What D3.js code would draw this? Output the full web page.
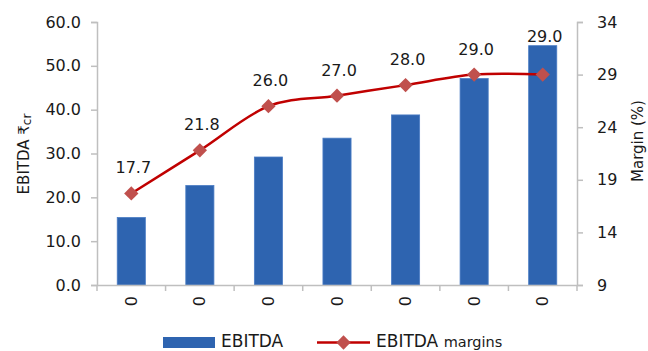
<!DOCTYPE html>
<html>
<head>
<meta charset="utf-8">
<script src="https://cdn.jsdelivr.net/npm/d3@7"></script>
<style>
  html, body { margin: 0; padding: 0; background: #fff; }
  svg { display: block; }
  text { font-family: "DejaVu Sans", sans-serif; fill: #1a1a1a; }
</style>
</head>
<body>
<svg id="chart" width="648" height="351"></svg>
<script>
// Period labels along the x axis
const categories = ["0", "0", "0", "0", "0", "0", "0"];
// EBITDA in ₹ crore (bars, left axis)
const ebitda = [15.4, 22.7, 29.2, 33.5, 38.8, 47.1, 54.6];
// EBITDA margin in % (line, right axis)
const margins = [17.7, 21.8, 26.0, 27.0, 28.0, 29.0, 29.0];
// Axis tick values
const leftTicks = [0, 10, 20, 30, 40, 50, 60];
const rightTicks = [9, 14, 19, 24, 29, 34];

const svg = d3.select("#chart");
const plot = { left: 97, right: 577, top: 22, bottom: 285 };
const axisColor = "#bfbfbf";
const barColor = "#2e64b0";
const lineColor = "#c00000";
const markerColor = "#c0504d";

const x = d3.scaleBand()
  .domain(d3.range(categories.length))
  .range([plot.left, plot.right])
  .padding(0);

const yL = d3.scaleLinear().domain([0, 60]).range([plot.bottom, plot.top]);
const yR = d3.scaleLinear().domain([9, 34]).range([plot.bottom, plot.top]);

const barW = x.bandwidth() * 0.41;
const cx = i => x(i) + x.bandwidth() / 2;

// Bars
svg.append("g").selectAll("rect")
  .data(ebitda)
  .join("rect")
  .attr("x", (d, i) => cx(i) - barW / 2)
  .attr("y", d => yL(d))
  .attr("width", barW)
  .attr("height", d => yL(0) - yL(d))
  .attr("fill", barColor)
  .attr("stroke", "#4a7cc4")
  .attr("stroke-width", 0.8);

// Left axis
const gL = svg.append("g")
  .attr("transform", `translate(${plot.left},0)`)
  .call(d3.axisLeft(yL).tickValues(leftTicks).tickFormat(d3.format(".1f")).tickSize(6).tickPadding(10));

// Right axis
const gR = svg.append("g")
  .attr("transform", `translate(${plot.right},0)`)
  .call(d3.axisRight(yR).tickValues(rightTicks).tickFormat(d3.format("d")).tickSize(6).tickPadding(14));

// Bottom axis: labels at band centres, tick marks at band edges
const gB = svg.append("g")
  .attr("transform", `translate(0,${plot.bottom})`)
  .call(d3.axisBottom(x).tickSize(0).tickFormat(i => categories[i]));
gB.selectAll(".tick text")
  .attr("transform", "rotate(-90)")
  .attr("text-anchor", "end")
  .attr("x", -11)
  .attr("y", 0)
  .attr("dy", "0.35em");
const edges = d3.range(categories.length).map(i => x(i)).concat([plot.right]);
gB.selectAll("line.edge")
  .data(edges)
  .join("line")
  .attr("class", "edge")
  .attr("x1", d => d).attr("x2", d => d)
  .attr("y1", 0).attr("y2", 6);

[gL, gR, gB].forEach(g => {
  g.selectAll("path.domain").attr("stroke", axisColor).attr("stroke-width", 1.5);
  g.selectAll("line").attr("stroke", axisColor).attr("stroke-width", 1.5);
  g.selectAll("text").attr("font-size", 16).attr("fill", "#1a1a1a")
    .style("font-family", "'DejaVu Sans', sans-serif");
});

// Margin line
const line = d3.line()
  .x((d, i) => cx(i))
  .y(d => yR(d))
  .curve(d3.curveCardinal.tension(0));

svg.append("path")
  .datum(margins)
  .attr("d", line)
  .attr("fill", "none")
  .attr("stroke", lineColor)
  .attr("stroke-width", 2.5);

const diamond = d3.symbol().type(d3.symbolDiamond2).size(130);
svg.append("g").selectAll("path")
  .data(margins)
  .join("path")
  .attr("d", diamond)
  .attr("transform", (d, i) => `translate(${cx(i)},${yR(d)})`)
  .attr("fill", markerColor);

// Value labels
svg.append("g").selectAll("text")
  .data(margins)
  .join("text")
  .attr("x", (d, i) => cx(i) + 2)
  .attr("y", (d, i) => yR(d) - (i === margins.length - 1 ? 33 : 20))
  .attr("text-anchor", "middle")
  .attr("font-size", 16)
  .text(d => d3.format(".1f")(d));

// Axis titles
const tL = svg.append("text")
  .attr("transform", `translate(29,154) rotate(-90)`)
  .attr("text-anchor", "middle")
  .attr("font-size", 15);
tL.append("tspan").text("EBITDA ₹");
tL.append("tspan").attr("font-size", 12).attr("dy", 2).text("cr");

svg.append("text")
  .attr("transform", `translate(643,141) rotate(-90)`)
  .attr("text-anchor", "middle")
  .attr("font-size", 15)
  .text("Margin (%)");

// Legend
const leg = svg.append("g");
leg.append("rect")
  .attr("x", 163).attr("y", 337).attr("width", 52).attr("height", 11)
  .attr("fill", barColor);
leg.append("text")
  .attr("x", 221).attr("y", 347)
  .attr("font-size", 17)
  .text("EBITDA");
leg.append("line")
  .attr("x1", 317).attr("x2", 370).attr("y1", 342.5).attr("y2", 342.5)
  .attr("stroke", lineColor).attr("stroke-width", 2.5);
leg.append("path")
  .attr("d", diamond)
  .attr("transform", "translate(343.5,342.5)")
  .attr("fill", markerColor);
const lt = leg.append("text")
  .attr("x", 376).attr("y", 347)
  .attr("font-size", 17);
lt.append("tspan").text("EBITDA ");
lt.append("tspan").attr("font-size", 14.5).text("margins");
</script>
</body>
</html>
